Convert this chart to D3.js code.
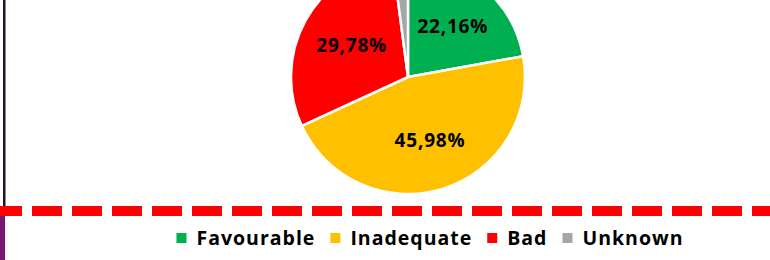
<!DOCTYPE html>
<html>
<head>
<meta charset="utf-8">
<script src="https://cdn.jsdelivr.net/npm/d3@7"></script>
<style>
  body { margin: 0; background: #fff; }
  svg { display: block; font-family: 'Open Sans', sans-serif; font-weight: bold; }
</style>
</head>
<body>
<svg id="chart" width="770" height="260"></svg>
<script>
// data
const categories = ['Favourable', 'Inadequate', 'Bad', 'Unknown'];
const shares = [22.16, 45.98, 29.78, 2.08];
const sliceLabels = ['22,16%', '45,98%', '29,78%', '2,08%'];
const colours = ['#00B050', '#FFC000', '#FF0000', '#A6A6A6'];

const width = 770;
const height = 260;
const cx = 408, cy = 77, radius = 117;

const svg = d3.select('#chart');

const data = categories.map((c, i) => ({ cat: c, value: shares[i], label: sliceLabels[i] }));

const color = d3.scaleOrdinal().domain(categories).range(colours);

const pie = d3.pie().sort(null).value((d) => d.value);
const arcs = pie(data);
const arc = d3.arc().innerRadius(0).outerRadius(radius);
const labelArc = d3.arc().innerRadius(radius * 0.57).outerRadius(radius * 0.57);

const g = svg.append('g').attr('transform', `translate(${cx},${cy})`);

g.selectAll('path')
  .data(arcs)
  .join('path')
  .attr('d', arc)
  .attr('fill', (d) => color(d.data.cat))
  .attr('stroke', '#fff')
  .attr('stroke-width', 2.5)
  .attr('stroke-linejoin', 'round');

// labels inside the big slices
g.selectAll('text.inner')
  .data(arcs.filter((d) => d.data.value > 5))
  .join('text')
  .attr('class', 'inner')
  .attr('transform', (d) => {
    const [x, y] = labelArc.centroid(d);
    return `translate(${x + 2},${y})`;
  })
  .attr('text-anchor', 'middle')
  .attr('dy', '0.36em')
  .attr('font-size', 19)
  .attr('letter-spacing', 0.8)
  .attr('fill', '#000')
  .text((d) => d.data.label);

// small slice label sits outside, mostly above the top of the canvas
const small = arcs.filter((d) => d.data.value <= 5);
const outerArc = d3.arc().innerRadius(radius * 1.08).outerRadius(radius * 1.08);
g.selectAll('text.outer')
  .data(small)
  .join('text')
  .attr('class', 'outer')
  .attr('transform', (d) => {
    const [x, y] = outerArc.centroid(d);
    return `translate(${x - 12},${y + 45})`;
  })
  .attr('text-anchor', 'end')
  .attr('font-size', 19)
  .attr('letter-spacing', 0.8)
  .text((d) => d.data.label);

// red dashed separator
svg.append('line')
  .attr('x1', 0).attr('x2', width)
  .attr('y1', 211).attr('y2', 211)
  .attr('stroke', '#FF0000')
  .attr('stroke-width', 10)
  .attr('stroke-dasharray', '30,10')
  .attr('stroke-dashoffset', 8);

// left edge rule
svg.append('rect').attr('x', 3).attr('y', 0).attr('width', 2.5).attr('height', 206).attr('fill', '#2b0c2b');
svg.append('rect').attr('x', 0).attr('y', 216).attr('width', 5).attr('height', height - 216).attr('fill', '#7a1670');

// legend
const legend = svg.append('g');
const items = legend.selectAll('g')
  .data(categories)
  .join('g');
items.append('rect')
  .attr('width', 10).attr('height', 10)
  .attr('y', -12)
  .attr('fill', (d) => color(d));
items.append('text')
  .attr('x', 20)
  .attr('y', 0)
  .attr('font-size', 19.5)
  .attr('letter-spacing', 1)
  .attr('fill', '#000')
  .text((d) => d);

let xpos = 0;
items.each(function () {
  const el = d3.select(this);
  el.attr('transform', `translate(${xpos},0)`);
  xpos += 20 + el.select('text').node().getComputedTextLength() + 15;
});
const total = xpos - 15;
legend.attr('transform', `translate(${430 - total / 2},245)`);
</script>
</body>
</html>
